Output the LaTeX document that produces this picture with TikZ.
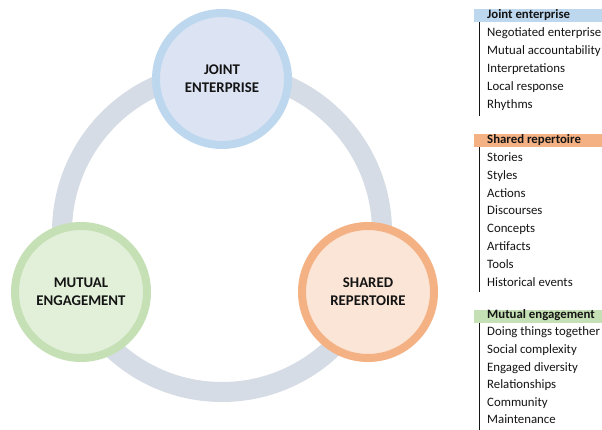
\documentclass[tikz,border=0pt]{standalone}
\usepackage{fontspec}
\setmainfont{Carlito}
\usetikzlibrary{positioning}
\definecolor{ink}{RGB}{20,20,20}
\definecolor{ringgrey}{RGB}{214,220,229}
\definecolor{jointline}{RGB}{189,215,238}
\definecolor{jointfill}{RGB}{220,228,244}
\definecolor{sharedline}{RGB}{244,177,131}
\definecolor{sharedfill}{RGB}{251,229,214}
\definecolor{mutualline}{RGB}{197,224,180}
\definecolor{mutualfill}{RGB}{226,240,217}
\tikzset{
  every picture/.style={x=1pt, y=-1pt, color=ink},
  hub/.style={circle, line width=8pt, minimum size=132pt, inner sep=0pt, align=center,
    font=\fontsize{14.8}{18}\selectfont\bfseries},
  ring/.style={draw=ringgrey, line width=20pt},
  head/.style={anchor=mid west, inner sep=0pt, font=\fontsize{12.8}{14}\selectfont\bfseries},
  item/.style={anchor=mid west, inner sep=0pt, font=\fontsize{12.8}{14}\selectfont},
  rule/.style={draw=ink, line width=0.8pt},
}

\begin{document}
\begin{tikzpicture}
  \fill[white] (0,0) rectangle (602,430);
  \useasboundingbox (0,0) rectangle (602,430);

  % the cycle and its three dimensions
  \draw[ring] (222,232) circle (160);
  \node[hub, draw=jointline, fill=jointfill] (joint) at (222,79) {JOINT\\ENTERPRISE};
  \node[hub, draw=mutualline, fill=mutualfill] (mutual) at (81,292) {MUTUAL\\ENGAGEMENT};
  \node[hub, draw=sharedline, fill=sharedfill] (shared) at (368,292) {SHARED\\REPERTOIRE};

  % key: joint enterprise
  \fill[jointline] (474,9.5) rectangle (602,22.5);
  \node[head] (jehead) at (487,16) {Joint enterprise};
  \draw[rule] (479,22.5) -- (479,116);
  \foreach \t [count=\i] in {Negotiated enterprise, Mutual accountability, Interpretations, Local response, Rhythms}
    \node[item] (je\i) at (487, 16+18*\i) {\t};

  % key: shared repertoire
  \fill[sharedline] (474,134.5) rectangle (602,147.5);
  \node[head] (srhead) at (487,141) {Shared repertoire};
  \draw[rule] (479,147.5) -- (479,292);
  \foreach \t [count=\i] in {Stories, Styles, Actions, Discourses, Concepts, Artifacts, Tools, Historical events}
    \node[item] (sr\i) at (487, 141+17.9*\i) {\t};

  % key: mutual engagement
  \fill[mutualline] (474,309.5) rectangle (602,322.5);
  \node[head] (mehead) at (487,316) {Mutual engagement};
  \draw[rule] (479,322.5) -- (479,430);
  \foreach \t [count=\i] in {Doing things together, Social complexity, Engaged diversity, Relationships, Community, Maintenance}
    \node[item] (me\i) at (487, 316+17.6*\i) {\t};
\end{tikzpicture}
\end{document}
